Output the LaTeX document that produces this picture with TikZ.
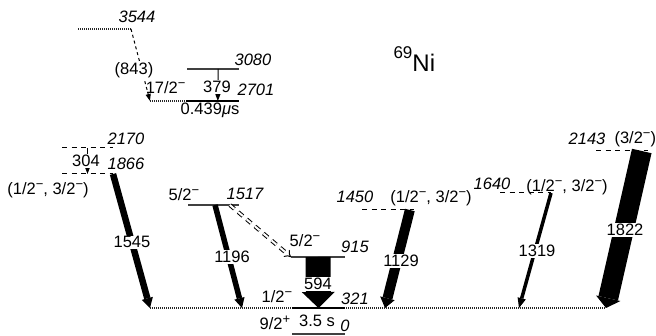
\documentclass[tikz,border=0pt]{standalone}
\usepackage{fontspec}
\setmainfont{Liberation Sans}
\usetikzlibrary{arrows.meta, positioning, calc}
\newcommand{\spm}{\raisebox{6.5pt}{\fontsize{13}{13}\selectfont −}}
\newcommand{\spp}{\raisebox{6pt}{\fontsize{13}{13}\selectfont +}}

\begin{document}
\begin{tikzpicture}
            [x=1pt, y=-1pt, font=\fontsize{16.5}{19}\selectfont,
            lvl/.style={draw=black!75, line width=1.3pt},
            lvlbold/.style={draw=black, line width=2.6pt},
            lvldash/.style={draw=black, line width=1pt, dash pattern=on 5pt off 4.5pt},
            lvldot/.style={draw=black!85, line width=1.1pt, dash pattern=on 1pt off 1pt},
            en/.style={font=\fontsize{16.5}{19}\selectfont\itshape, anchor=base},
            jp/.style={anchor=base},
            glab/.style={anchor=base, fill=white, inner sep=1pt},
            weak/.style={draw=black, line width=1pt, -{Triangle[width=5pt, length=7pt]}},
            gam/.style={draw=black, line width=#1,
              -{Triangle[width=5pt 1, length=10pt 0, line width=0pt 0 0]}}]

            \useasboundingbox (0,0) rectangle (656,336);
            \clip (0,0) rectangle (656,336);

            % levels
            \coordinate (l3544a) at (78,29);   \coordinate (l3544b) at (131,29);
            \coordinate (l3080a) at (187,69);  \coordinate (l3080b) at (239,69);
            \coordinate (l2701o) at (150,101); \coordinate (l2701a) at (186,101);
            \coordinate (l2701b) at (239,101);
            \coordinate (l2170a) at (62,148);  \coordinate (l2170b) at (113,148);
            \coordinate (l1866a) at (62,174);  \coordinate (l1866b) at (113,174);
            \coordinate (l2143a) at (596,151); \coordinate (l2143b) at (648,151);
            \coordinate (l1640a) at (500,193); \coordinate (l1640b) at (551,193);
            \coordinate (l1517a) at (188,205); \coordinate (l1517b) at (239,205);
            \coordinate (l1450a) at (362,210); \coordinate (l1450b) at (414,210);
            \coordinate (l915a) at (291,257);  \coordinate (l915b) at (345,257);
            \coordinate (l321o) at (150,308);  \coordinate (l321a) at (292,308);
            \coordinate (l321b) at (345,308);  \coordinate (l321e) at (606,308);
            \coordinate (l0a) at (292,334);    \coordinate (l0b) at (345,334);
            \coordinate (f1196) at (242,308);
            \coordinate (f1129) at (385,308);
            \coordinate (f1319) at (519,308);

            \draw[lvldot] (l3544a) -- (l3544b);
            \draw[lvl] (l3080a) -- (l3080b);
            \draw[lvldot] (l2701o) -- (l2701a);
            \draw[lvlbold] (l2701a) -- (l2701b);
            \draw[lvldash] (l2170a) -- (l2170b);
            \draw[lvldash] (l1866a) -- (l1866b);
            \draw[lvldash] (l2143a) -- (l2143b);
            \draw[lvldash] (l1640a) -- (l1640b);
            \draw[lvl] (l1517a) -- (l1517b);
            \draw[lvldash] (l1450a) -- (l1450b);
            \draw[lvl] (l915a) -- (l915b);
            \draw[lvldot] (l321o) -- (l321e);
            \draw[lvlbold] (l321a) -- (l321b);
            \draw[lvl] (l0a) -- (l0b);

            % transitions
            \draw[weak, dashed] (l3544b) -- (l2701o);
            \draw[weak] ($(l3080a)!.6!(l3080b)$) -- ($(l2701a)!.6!(l2701b)$);
            \draw[weak] ($(l2170a)!.5!(l2170b)$) -- ($(l1866a)!.5!(l1866b)$);
            \draw[gam=6.5pt] (l1866b) -- (l321o);
            \draw[gam=5.5pt] ($(l1517a)!.53!(l1517b)$) -- (f1196);
            \draw[double, double distance=2pt, line width=1pt, dash pattern=on 6pt off 5pt, -Implies]
              ($(l1517a)!.82!(l1517b)$) -- (l915a);
            \draw[gam=25pt, -{Triangle[width=33pt 0, length=16pt 0, line width=0pt 0 0]}]
              ($(l915a)!.5!(l915b)$) -- ($(l321a)!.5!(l321b)$);
            \draw[gam=10pt] ($(l1450a)!.92!(l1450b)$) -- (f1129);
            \draw[gam=3.5pt] (l1640b) -- (f1319);
            \draw[gam=20pt] ($(l2143a)!.88!(l2143b)$) -- (l321e);

            % level labels
            \node[en] (t3544) at (137,23) {3544};
            \node[en] (t3080) at (253,66) {3080};
            \node[jp, anchor=base east] (s2701) at (189,94) {17/2\spm};
            \node[en] (t2701) at (256,96) {2701};
            \node[jp] (h2701) at (210,115) {0.439{\itshape μ}s};
            \node[anchor=base west] (nuc) at (390,72)
              {{\fontsize{17}{17}\selectfont\raisebox{13pt}{69}}{\fontsize{24}{26}\selectfont Ni}};
            \node[en] (t2170) at (126,145) {2170};
            \node[en] (t1866) at (126,170) {1866};
            \node[jp] (s1866) at (48,195) {(1/2\spm, 3/2\spm)};
            \node[jp] (s1517) at (184,201) {5/2\spm};
            \node[en] (t1517) at (245,200) {1517};
            \node[jp] (s915) at (305,247) {5/2\spm};
            \node[en] (t915) at (355,253) {915};
            \node[jp] (s321) at (277,303) {1/2\spm};
            \node[en] (t321) at (355,305) {321};
            \node[jp] (s0) at (275,330) {9/2\spp};
            \node[jp] (h0) at (317,327) {3.5 s};
            \node[en] (t0) at (345,332) {0};
            \node[en] (t1450) at (355,203) {1450};
            \node[jp] (s1450) at (431,203) {(1/2\spm, 3/2\spm)};
            \node[en] (t1640) at (492,190) {1640};
            \node[jp] (s1640) at (567,192) {(1/2\spm, 3/2\spm)};
            \node[en] (t2143) at (587,145) {2143};
            \node[jp, anchor=base west] (s2143) at (611,144) {(3/2\spm)};

            % gamma labels
            \node[glab] (g843) at (134,75) {(843)};
            \node[glab] (g379) at (217,93) {379};
            \node[glab] (g304) at (86,167) {304};
            \node[glab] (g1545) at (132,248) {1545};
            \node[glab] (g1196) at (232,263) {1196};
            \node[glab] (g594) at (318,290) {594};
            \node[glab] (g1129) at (401,267) {1129};
            \node[glab] (g1319) at (537,257) {1319};
            \node[glab] (g1822) at (625,236) {1822};

          \end{tikzpicture}
\end{document}
